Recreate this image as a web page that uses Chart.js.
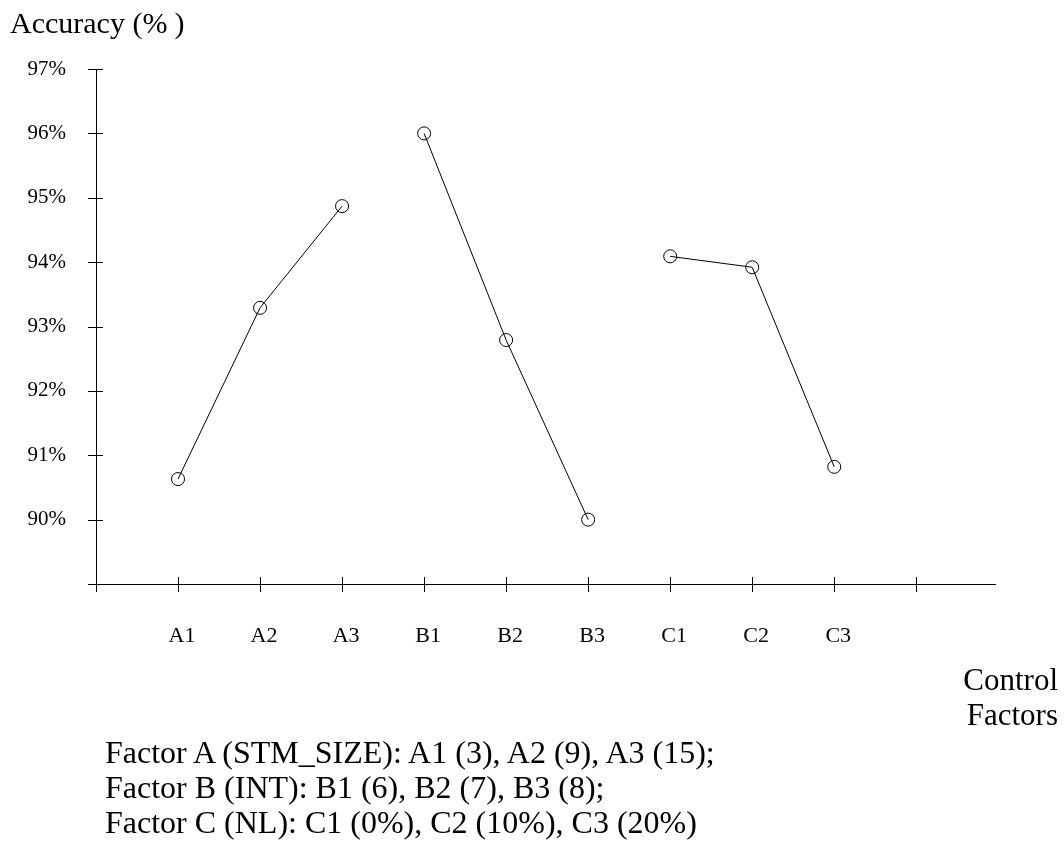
<!DOCTYPE html>
<html>
<head>
<meta charset="utf-8">
<script src="https://cdn.jsdelivr.net/npm/chart.js@4.4.0/dist/chart.umd.min.js"></script>
<style>
  html, body { margin: 0; padding: 0; background: #fff; }
  #wrap { position: relative; width: 1064px; height: 846px; font-family: "Liberation Serif", "Times New Roman", serif; color: #000; }
  #chart { position: absolute; left: 0; top: 0; }
  .txt { position: absolute; white-space: nowrap; }
  #yTitle { left: 10px; top: 8px; font-size: 30px; line-height: 1; }
  #yTitle span { margin-left: 7px; }
  #xTitle { right: 6px; top: 662px; font-size: 31px; line-height: 35px; text-align: right; }
  #notes { left: 105px; top: 735px; font-size: 32px; line-height: 35px; }
</style>
</head>
<body>
<div id="wrap">
  <canvas id="chart" width="1064" height="846"></canvas>
  <div class="txt" id="yTitle">Accuracy (%<span>)</span></div>
  <div class="txt" id="xTitle">Control<br>Factors</div>
  <div class="txt" id="notes">Factor A (STM_SIZE): A1 (3), A2 (9), A3 (15);<br>Factor B (INT): B1 (6), B2 (7), B3 (8);<br>Factor C (NL): C1 (0%), C2 (10%), C3 (20%)</div>
</div>
<script>
// levels of each control factor, in axis order
const categories = ['A1', 'A2', 'A3', 'B1', 'B2', 'B3', 'C1', 'C2', 'C3'];
const factorA = [90.63, 93.29, 94.87];
const factorB = [96.0, 92.79, 90.0];
const factorC = [94.09, 93.92, 90.82];
const yMin = 89;
const yMax = 97;

const serif = '"Liberation Serif", "Times New Roman", serif';

// each factor sits on its own slot of the x axis (A at 1..3, B at 4..6, C at 7..9)
function toPoints(values, start) {
    return values.map((v, i) => ({ x: start + i + 1, y: v }));
}

function seriesStyle(values, start) {
    return {
        data: toPoints(values, start),
        borderColor: '#000',
        borderWidth: 1,
        pointStyle: 'circle',
        pointRadius: 6.5,
        pointBorderWidth: 1,
        pointBorderColor: '#000',
        pointBackgroundColor: 'rgba(0,0,0,0)',
        tension: 0,
        fill: false
    };
}

// tick marks crossing both axes, like the original plot
const crossTicks = {
    id: 'crossTicks',
    afterDraw(chart) {
        const ctx = chart.ctx;
        const xs = chart.scales.x;
        const ys = chart.scales.y;
        const left = chart.chartArea.left;
        const bottom = chart.chartArea.bottom;
        ctx.save();
        ctx.strokeStyle = '#000';
        ctx.lineWidth = 1;
        ctx.beginPath();
        xs.ticks.forEach(t => {
            const px = Math.round(xs.getPixelForValue(t.value)) + 0.5;
            ctx.moveTo(px, bottom - 7);
            ctx.lineTo(px, bottom + 8);
        });
        ys.ticks.forEach(t => {
            const py = Math.round(ys.getPixelForValue(t.value)) + 0.5;
            ctx.moveTo(left - 8, py);
            ctx.lineTo(left + 7, py);
        });
        ctx.stroke();
        ctx.restore();
    }
};

new Chart(document.getElementById('chart'), {
    type: 'line',
    data: {
        datasets: [
            seriesStyle(factorA, 0),
            seriesStyle(factorB, 3),
            seriesStyle(factorC, 6)
        ]
    },
    options: {
        responsive: false,
        animation: false,
        layout: { padding: { top: 69, right: 69, left: 0, bottom: 0 } },
        plugins: {
            legend: { display: false },
            tooltip: { enabled: false }
        },
        scales: {
            x: {
                type: 'linear',
                min: 0,
                max: 10.96,
                grid: { display: false, drawTicks: false },
                border: { display: true, color: '#000', width: 1 },
                ticks: {
                    stepSize: 1,
                    includeBounds: false,
                    autoSkip: false,
                    maxRotation: 0,
                    padding: 39,
                    labelOffset: 4,
                    color: '#000',
                    font: { family: serif, size: 22 },
                    callback: v => categories[v - 1] || ''
                },
                afterFit: scale => { scale.height = 846 - 584; }
            },
            y: {
                min: yMin,
                max: yMax,
                grid: { display: false, drawTicks: false },
                border: { display: true, color: '#000', width: 1 },
                ticks: {
                    stepSize: 1,
                    padding: 30,
                    color: '#000',
                    font: { family: serif, size: 21 },
                    callback: v => (v === yMin ? '' : v + '%')
                },
                afterFit: scale => { scale.width = 96; }
            }
        }
    },
    plugins: [crossTicks]
});
</script>
</body>
</html>
